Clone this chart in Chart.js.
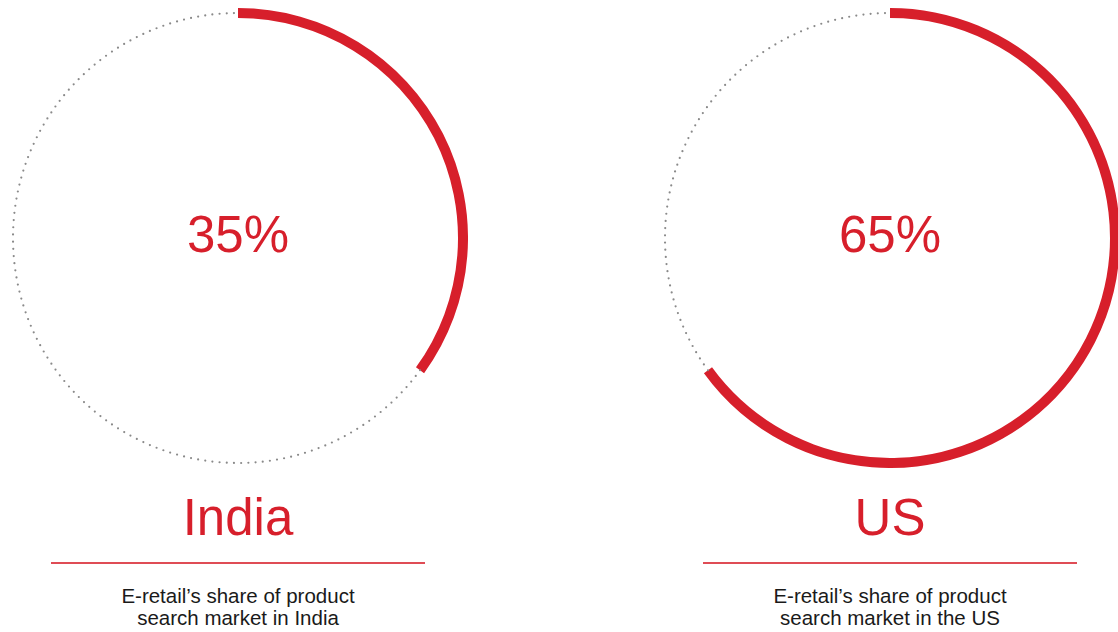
<!DOCTYPE html>
<html>
<head>
<meta charset="utf-8">
<script src="https://cdn.jsdelivr.net/npm/chart.js@4.4.0/dist/chart.umd.min.js"></script>
<style>
  html, body { margin: 0; padding: 0; background: #fff; }
  body { width: 1118px; height: 632px; position: relative; overflow: hidden; font-family: "Liberation Sans", Arial, sans-serif; }
  .ring { position: absolute; top: 8px; width: 460px; height: 460px; }
  .panel { position: absolute; top: 480px; width: 374px; text-align: center; }
  .panel h2 { margin: 0; height: 76px; line-height: 76px; font-size: 51px; font-weight: normal; color: #d71f2b; }
  .panel .rule { margin-top: 6px; height: 2px; background: rgba(215, 31, 43, 0.8); }
  .panel p { margin: 0; padding-top: 21px; font-size: 20.5px; line-height: 21.5px; color: #1a1a1a; }
</style>
</head>
<body>
<div class="ring" style="left:8px"><canvas id="ring-0"></canvas></div>
<div class="ring" style="left:660px"><canvas id="ring-1"></canvas></div>
<div class="panel" style="left:51px"><h2 id="name-0"></h2><div class="rule"></div><p id="caption-0"></p></div>
<div class="panel" style="left:703px"><h2 id="name-1"></h2><div class="rule"></div><p id="caption-1"></p></div>

<script>
const regions = ['India', 'US'];
const shareValues = [35, 65];
const restValues = [65, 35];
const captions = [
  'E-retail\u2019s share of product<br>search market in India',
  'E-retail\u2019s share of product<br>search market in the US'
];

const RED = '#d71f2b';

// dotted track for the remaining part of the ring, plus the big % in the middle
const ringExtras = {
  id: 'ringExtras',
  afterDatasetsDraw(chart) {
    const ctx = chart.ctx;
    const meta = chart.getDatasetMeta(0);
    const rest = meta.data[1];
    const { x, y, startAngle, endAngle, innerRadius, outerRadius } = rest.getProps(
      ['x', 'y', 'startAngle', 'endAngle', 'innerRadius', 'outerRadius'], true);
    const r = (innerRadius + outerRadius) / 2;

    ctx.save();
    ctx.beginPath();
    ctx.arc(x, y, r, startAngle, endAngle);
    ctx.strokeStyle = '#8a8a8a';
    ctx.lineWidth = 2.2;
    ctx.lineCap = 'round';
    ctx.setLineDash([0, 7.2]);
    ctx.stroke();
    ctx.restore();

    const value = chart.data.datasets[0].data[0];
    ctx.save();
    ctx.fillStyle = RED;
    ctx.font = '51px "Liberation Sans", Arial, sans-serif';
    ctx.textAlign = 'center';
    ctx.textBaseline = 'middle';
    ctx.fillText(value + '%', x, y);
    ctx.restore();
  }
};

regions.forEach((name, i) => {
  document.getElementById('name-' + i).textContent = name;
  document.getElementById('caption-' + i).innerHTML = captions[i];

  new Chart(document.getElementById('ring-' + i), {
    type: 'doughnut',
    data: {
      labels: ['E-retail', 'Other'],
      datasets: [{
        data: [shareValues[i], restValues[i]],
        backgroundColor: [RED, 'rgba(0,0,0,0)'],
        borderWidth: 0,
        hoverOffset: 0,
        offset: 0
      }]
    },
    options: {
      responsive: true,
      maintainAspectRatio: false,
      animation: false,
      events: [],
      cutout: 220,
      layout: { padding: 0 },
      plugins: {
        legend: { display: false },
        tooltip: { enabled: false }
      }
    },
    plugins: [ringExtras]
  });
});
</script>
</body>
</html>
